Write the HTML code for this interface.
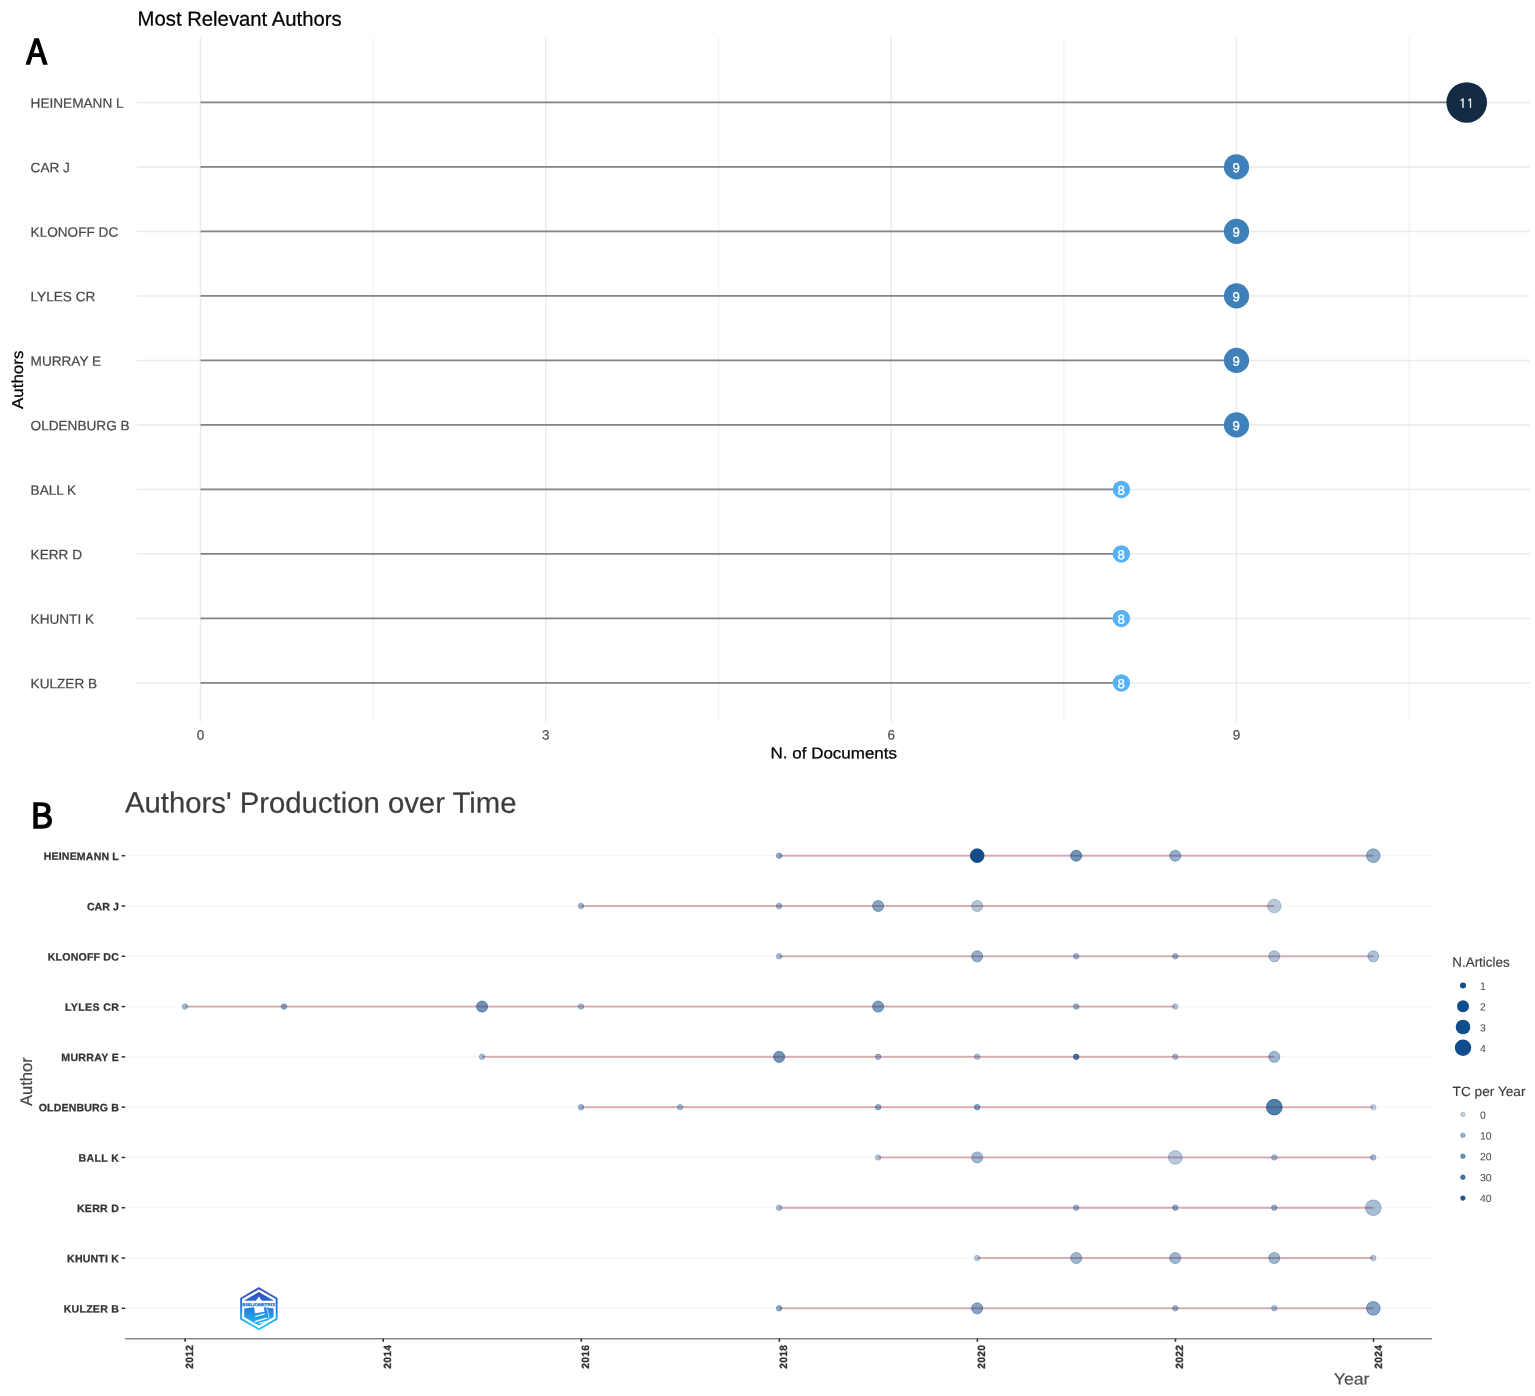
<!DOCTYPE html>
<html lang="en"><head><meta charset="utf-8"><title>Most Relevant Authors / Authors' Production over Time</title>
<style>
html,body{margin:0;padding:0;background:#fff;}
body{width:1535px;height:1396px;overflow:hidden;}
svg{display:block;}
text{font-family:"Liberation Sans", Arial, Helvetica, sans-serif;text-rendering:geometricPrecision;}
.ng{font-family:"NanumGothic","Liberation Sans",sans-serif;}
.lab{font-family:"Noto Sans CJK SC","Liberation Sans",sans-serif;font-weight:400;}
</style></head><body>
<svg width="1535" height="1396" viewBox="0 0 1535 1396">
<defs>
<linearGradient id="lg" gradientUnits="userSpaceOnUse" x1="0" y1="-21" x2="0" y2="21">
<stop offset="0" stop-color="#3A40B2"/><stop offset="0.45" stop-color="#2378DD"/><stop offset="1" stop-color="#1FCDF3"/>
</linearGradient>
</defs>
<rect width="1535" height="1396" fill="#fff"/>

<g id="panelA">
<line x1="373.16" y1="37.50" x2="373.16" y2="721.50" stroke="#f1f1f1" stroke-width="1.2"/>
<line x1="718.50" y1="37.50" x2="718.50" y2="721.50" stroke="#f1f1f1" stroke-width="1.2"/>
<line x1="1063.83" y1="37.50" x2="1063.83" y2="721.50" stroke="#f1f1f1" stroke-width="1.2"/>
<line x1="1409.15" y1="37.50" x2="1409.15" y2="721.50" stroke="#f1f1f1" stroke-width="1.2"/>
<line x1="200.50" y1="37.50" x2="200.50" y2="721.50" stroke="#ebebeb" stroke-width="1.5"/>
<line x1="545.83" y1="37.50" x2="545.83" y2="721.50" stroke="#ebebeb" stroke-width="1.5"/>
<line x1="891.16" y1="37.50" x2="891.16" y2="721.50" stroke="#ebebeb" stroke-width="1.5"/>
<line x1="1236.49" y1="37.50" x2="1236.49" y2="721.50" stroke="#ebebeb" stroke-width="1.5"/>
<line x1="137.00" y1="102.45" x2="1530.00" y2="102.45" stroke="#ebebeb" stroke-width="1.5"/>
<line x1="137.00" y1="166.95" x2="1530.00" y2="166.95" stroke="#ebebeb" stroke-width="1.5"/>
<line x1="137.00" y1="231.45" x2="1530.00" y2="231.45" stroke="#ebebeb" stroke-width="1.5"/>
<line x1="137.00" y1="295.95" x2="1530.00" y2="295.95" stroke="#ebebeb" stroke-width="1.5"/>
<line x1="137.00" y1="360.45" x2="1530.00" y2="360.45" stroke="#ebebeb" stroke-width="1.5"/>
<line x1="137.00" y1="424.95" x2="1530.00" y2="424.95" stroke="#ebebeb" stroke-width="1.5"/>
<line x1="137.00" y1="489.45" x2="1530.00" y2="489.45" stroke="#ebebeb" stroke-width="1.5"/>
<line x1="137.00" y1="553.95" x2="1530.00" y2="553.95" stroke="#ebebeb" stroke-width="1.5"/>
<line x1="137.00" y1="618.45" x2="1530.00" y2="618.45" stroke="#ebebeb" stroke-width="1.5"/>
<line x1="137.00" y1="682.95" x2="1530.00" y2="682.95" stroke="#ebebeb" stroke-width="1.5"/>
<line x1="200.50" y1="102.45" x2="1466.71" y2="102.45" stroke="#858585" stroke-width="1.7"/>
<line x1="200.50" y1="166.95" x2="1236.49" y2="166.95" stroke="#858585" stroke-width="1.7"/>
<line x1="200.50" y1="231.45" x2="1236.49" y2="231.45" stroke="#858585" stroke-width="1.7"/>
<line x1="200.50" y1="295.95" x2="1236.49" y2="295.95" stroke="#858585" stroke-width="1.7"/>
<line x1="200.50" y1="360.45" x2="1236.49" y2="360.45" stroke="#858585" stroke-width="1.7"/>
<line x1="200.50" y1="424.95" x2="1236.49" y2="424.95" stroke="#858585" stroke-width="1.7"/>
<line x1="200.50" y1="489.45" x2="1121.38" y2="489.45" stroke="#858585" stroke-width="1.7"/>
<line x1="200.50" y1="553.95" x2="1121.38" y2="553.95" stroke="#858585" stroke-width="1.7"/>
<line x1="200.50" y1="618.45" x2="1121.38" y2="618.45" stroke="#858585" stroke-width="1.7"/>
<line x1="200.50" y1="682.95" x2="1121.38" y2="682.95" stroke="#858585" stroke-width="1.7"/>
<circle cx="1466.71" cy="102.45" r="20.3" fill="#132B43"/>
<text transform="translate(1466.61,107.45) rotate(0.03)" font-size="12" fill="#fff" class="ng" text-anchor="middle" stroke="#fff" stroke-width="0.35" letter-spacing="0.3">11</text>
<circle cx="1236.49" cy="166.95" r="12.6" fill="#3E80BA"/>
<text transform="translate(1236.19,172.25) rotate(0.03)" font-size="13.2" fill="#fff" text-anchor="middle" stroke="#fff" stroke-width="0.3">9</text>
<circle cx="1236.49" cy="231.45" r="12.6" fill="#3E80BA"/>
<text transform="translate(1236.19,236.75) rotate(0.03)" font-size="13.2" fill="#fff" text-anchor="middle" stroke="#fff" stroke-width="0.3">9</text>
<circle cx="1236.49" cy="295.95" r="12.6" fill="#3E80BA"/>
<text transform="translate(1236.19,301.25) rotate(0.03)" font-size="13.2" fill="#fff" text-anchor="middle" stroke="#fff" stroke-width="0.3">9</text>
<circle cx="1236.49" cy="360.45" r="12.6" fill="#3E80BA"/>
<text transform="translate(1236.19,365.75) rotate(0.03)" font-size="13.2" fill="#fff" text-anchor="middle" stroke="#fff" stroke-width="0.3">9</text>
<circle cx="1236.49" cy="424.95" r="12.6" fill="#3E80BA"/>
<text transform="translate(1236.19,430.25) rotate(0.03)" font-size="13.2" fill="#fff" text-anchor="middle" stroke="#fff" stroke-width="0.3">9</text>
<circle cx="1121.38" cy="489.45" r="8.7" fill="#56B1F7"/>
<text transform="translate(1121.08,494.75) rotate(0.03)" font-size="13.2" fill="#fff" text-anchor="middle" stroke="#fff" stroke-width="0.3">8</text>
<circle cx="1121.38" cy="553.95" r="8.7" fill="#56B1F7"/>
<text transform="translate(1121.08,559.25) rotate(0.03)" font-size="13.2" fill="#fff" text-anchor="middle" stroke="#fff" stroke-width="0.3">8</text>
<circle cx="1121.38" cy="618.45" r="8.7" fill="#56B1F7"/>
<text transform="translate(1121.08,623.75) rotate(0.03)" font-size="13.2" fill="#fff" text-anchor="middle" stroke="#fff" stroke-width="0.3">8</text>
<circle cx="1121.38" cy="682.95" r="8.7" fill="#56B1F7"/>
<text transform="translate(1121.08,688.25) rotate(0.03)" font-size="13.2" fill="#fff" text-anchor="middle" stroke="#fff" stroke-width="0.3">8</text>
<text transform="translate(30.55,107.70) rotate(0.03)" font-size="13.62" fill="#474747" stroke="#474747" stroke-width="0.2">HEINEMANN L</text>
<text transform="translate(30.55,172.20) rotate(0.03)" font-size="13.62" fill="#474747" stroke="#474747" stroke-width="0.2">CAR J</text>
<text transform="translate(30.55,236.70) rotate(0.03)" font-size="13.62" fill="#474747" stroke="#474747" stroke-width="0.2">KLONOFF DC</text>
<text transform="translate(30.55,301.20) rotate(0.03)" font-size="13.62" fill="#474747" stroke="#474747" stroke-width="0.2">LYLES CR</text>
<text transform="translate(30.55,365.70) rotate(0.03)" font-size="13.62" fill="#474747" stroke="#474747" stroke-width="0.2">MURRAY E</text>
<text transform="translate(30.55,430.20) rotate(0.03)" font-size="13.62" fill="#474747" stroke="#474747" stroke-width="0.2">OLDENBURG B</text>
<text transform="translate(30.55,494.70) rotate(0.03)" font-size="13.62" fill="#474747" stroke="#474747" stroke-width="0.2">BALL K</text>
<text transform="translate(30.55,559.20) rotate(0.03)" font-size="13.62" fill="#474747" stroke="#474747" stroke-width="0.2">KERR D</text>
<text transform="translate(30.55,623.70) rotate(0.03)" font-size="13.62" fill="#474747" stroke="#474747" stroke-width="0.2">KHUNTI K</text>
<text transform="translate(30.55,688.20) rotate(0.03)" font-size="13.62" fill="#474747" stroke="#474747" stroke-width="0.2">KULZER B</text>
<text transform="translate(200.50,739.50) rotate(0.03)" font-size="13.5" fill="#4d4d4d" text-anchor="middle" stroke="#4d4d4d" stroke-width="0.2">0</text>
<text transform="translate(545.83,739.50) rotate(0.03)" font-size="13.5" fill="#4d4d4d" text-anchor="middle" stroke="#4d4d4d" stroke-width="0.2">3</text>
<text transform="translate(891.16,739.50) rotate(0.03)" font-size="13.5" fill="#4d4d4d" text-anchor="middle" stroke="#4d4d4d" stroke-width="0.2">6</text>
<text transform="translate(1236.49,739.50) rotate(0.03)" font-size="13.5" fill="#4d4d4d" text-anchor="middle" stroke="#4d4d4d" stroke-width="0.2">9</text>
<text transform="translate(833.80,758.40) rotate(0.03) scale(1.075,1)" font-size="15.8" fill="#000" text-anchor="middle" stroke="#000" stroke-width="0.25">N. of Documents</text>
<text transform="translate(22.70,379.80) rotate(-90) scale(1.07,1)" font-size="15.8" fill="#000" text-anchor="middle" stroke="#000" stroke-width="0.25">Authors</text>
<text transform="translate(137.60,25.60) rotate(0.03)" font-size="20.3" fill="#000" stroke="#000" stroke-width="0.25">Most Relevant Authors</text>
<text class="lab" x="26.3" y="64.35" font-size="34.2" fill="#000" stroke="#000" stroke-width="1.3">A</text>
</g>
<g id="panelB">
<line x1="125.00" y1="855.70" x2="1432.00" y2="855.70" stroke="#f6f6f6" stroke-width="1.2"/>
<line x1="125.00" y1="905.99" x2="1432.00" y2="905.99" stroke="#f6f6f6" stroke-width="1.2"/>
<line x1="125.00" y1="956.28" x2="1432.00" y2="956.28" stroke="#f6f6f6" stroke-width="1.2"/>
<line x1="125.00" y1="1006.57" x2="1432.00" y2="1006.57" stroke="#f6f6f6" stroke-width="1.2"/>
<line x1="125.00" y1="1056.86" x2="1432.00" y2="1056.86" stroke="#f6f6f6" stroke-width="1.2"/>
<line x1="125.00" y1="1107.15" x2="1432.00" y2="1107.15" stroke="#f6f6f6" stroke-width="1.2"/>
<line x1="125.00" y1="1157.44" x2="1432.00" y2="1157.44" stroke="#f6f6f6" stroke-width="1.2"/>
<line x1="125.00" y1="1207.73" x2="1432.00" y2="1207.73" stroke="#f6f6f6" stroke-width="1.2"/>
<line x1="125.00" y1="1258.02" x2="1432.00" y2="1258.02" stroke="#f6f6f6" stroke-width="1.2"/>
<line x1="125.00" y1="1308.31" x2="1432.00" y2="1308.31" stroke="#f6f6f6" stroke-width="1.2"/>
<g id="logo" transform="translate(258.9,1308.7)">
<polygon points="0,-20.5 17.75,-10.25 17.75,10.25 0,20.5 -17.75,10.25 -17.75,-10.25" fill="#fff" stroke="url(#lg)" stroke-width="1.9" stroke-linejoin="miter"/>
<polygon points="0,-16.7 14.3,-8.45 14.3,-8.0 -14.3,-8.0 -14.3,-8.45" fill="url(#lg)"/>
<polygon points="-14.7,-0.3 -5.2,-1.5 5.2,-1.5 14.7,-0.3 14.7,8.4 0,16.9 -14.7,8.4" fill="url(#lg)"/>
<polygon points="0,-12.2 3.4,-7.2 -3.4,-7.2" fill="#fff"/>
<polygon points="-4.8,-2 4.9,-2 5.7,3.1 -3.9,4.5" fill="#fff"/>
<path d="M-3.6,7.8 L5.9,5.2 M-4,12.9 L8,9.4 M0.2,14.6 L8,12.5" stroke="#fff" stroke-width="1.15" fill="none"/>
<path d="M7.2,0.2 L8.6,0.6 L10.2,10.8" stroke="#fff" stroke-width="0.7" fill="none"/>
<text x="0" y="-3.1" font-size="4.1" font-weight="bold" fill="#2672DC" stroke="#2672DC" stroke-width="0.25" text-anchor="middle" textLength="32.6" lengthAdjust="spacingAndGlyphs">BIBLIOMETRIX</text>
</g>

<line x1="779.13" y1="855.70" x2="1373.31" y2="855.70" stroke="#9D1928" stroke-width="2" stroke-opacity="0.25"/>
<circle cx="779.13" cy="855.70" r="2.75" fill="#104E8B" fill-opacity="0.45" stroke="#104E8B" stroke-opacity="0.45" stroke-width="0.9"/>
<circle cx="977.19" cy="855.70" r="6.85" fill="#104E8B" fill-opacity="1.00" stroke="#104E8B" stroke-opacity="1.00" stroke-width="0.9"/>
<circle cx="1076.22" cy="855.70" r="5.55" fill="#104E8B" fill-opacity="0.60" stroke="#104E8B" stroke-opacity="0.60" stroke-width="0.9"/>
<circle cx="1175.25" cy="855.70" r="5.55" fill="#104E8B" fill-opacity="0.45" stroke="#104E8B" stroke-opacity="0.45" stroke-width="0.9"/>
<circle cx="1373.31" cy="855.70" r="6.85" fill="#104E8B" fill-opacity="0.45" stroke="#104E8B" stroke-opacity="0.45" stroke-width="0.9"/>
<line x1="779.13" y1="855.70" x2="1373.31" y2="855.70" stroke="#9D1928" stroke-width="1.8" stroke-opacity="0.12"/>
<line x1="581.07" y1="905.99" x2="1274.28" y2="905.99" stroke="#9D1928" stroke-width="2" stroke-opacity="0.25"/>
<circle cx="581.07" cy="905.99" r="2.75" fill="#104E8B" fill-opacity="0.40" stroke="#104E8B" stroke-opacity="0.40" stroke-width="0.9"/>
<circle cx="779.13" cy="905.99" r="2.75" fill="#104E8B" fill-opacity="0.40" stroke="#104E8B" stroke-opacity="0.40" stroke-width="0.9"/>
<circle cx="878.16" cy="905.99" r="5.55" fill="#104E8B" fill-opacity="0.50" stroke="#104E8B" stroke-opacity="0.50" stroke-width="0.9"/>
<circle cx="977.19" cy="905.99" r="5.55" fill="#104E8B" fill-opacity="0.32" stroke="#104E8B" stroke-opacity="0.32" stroke-width="0.9"/>
<circle cx="1274.28" cy="905.99" r="6.85" fill="#104E8B" fill-opacity="0.30" stroke="#104E8B" stroke-opacity="0.30" stroke-width="0.9"/>
<line x1="581.07" y1="905.99" x2="1274.28" y2="905.99" stroke="#9D1928" stroke-width="1.8" stroke-opacity="0.12"/>
<line x1="779.13" y1="956.28" x2="1373.31" y2="956.28" stroke="#9D1928" stroke-width="2" stroke-opacity="0.25"/>
<circle cx="779.13" cy="956.28" r="2.75" fill="#104E8B" fill-opacity="0.35" stroke="#104E8B" stroke-opacity="0.35" stroke-width="0.9"/>
<circle cx="977.19" cy="956.28" r="5.55" fill="#104E8B" fill-opacity="0.45" stroke="#104E8B" stroke-opacity="0.45" stroke-width="0.9"/>
<circle cx="1076.22" cy="956.28" r="2.75" fill="#104E8B" fill-opacity="0.40" stroke="#104E8B" stroke-opacity="0.40" stroke-width="0.9"/>
<circle cx="1175.25" cy="956.28" r="2.75" fill="#104E8B" fill-opacity="0.40" stroke="#104E8B" stroke-opacity="0.40" stroke-width="0.9"/>
<circle cx="1274.28" cy="956.28" r="5.55" fill="#104E8B" fill-opacity="0.35" stroke="#104E8B" stroke-opacity="0.35" stroke-width="0.9"/>
<circle cx="1373.31" cy="956.28" r="5.55" fill="#104E8B" fill-opacity="0.35" stroke="#104E8B" stroke-opacity="0.35" stroke-width="0.9"/>
<line x1="779.13" y1="956.28" x2="1373.31" y2="956.28" stroke="#9D1928" stroke-width="1.8" stroke-opacity="0.12"/>
<line x1="184.95" y1="1006.57" x2="1175.25" y2="1006.57" stroke="#9D1928" stroke-width="2" stroke-opacity="0.25"/>
<circle cx="184.95" cy="1006.57" r="2.75" fill="#104E8B" fill-opacity="0.35" stroke="#104E8B" stroke-opacity="0.35" stroke-width="0.9"/>
<circle cx="283.98" cy="1006.57" r="2.75" fill="#104E8B" fill-opacity="0.45" stroke="#104E8B" stroke-opacity="0.45" stroke-width="0.9"/>
<circle cx="482.04" cy="1006.57" r="5.55" fill="#104E8B" fill-opacity="0.60" stroke="#104E8B" stroke-opacity="0.60" stroke-width="0.9"/>
<circle cx="581.07" cy="1006.57" r="2.75" fill="#104E8B" fill-opacity="0.35" stroke="#104E8B" stroke-opacity="0.35" stroke-width="0.9"/>
<circle cx="878.16" cy="1006.57" r="5.55" fill="#104E8B" fill-opacity="0.55" stroke="#104E8B" stroke-opacity="0.55" stroke-width="0.9"/>
<circle cx="1076.22" cy="1006.57" r="2.75" fill="#104E8B" fill-opacity="0.40" stroke="#104E8B" stroke-opacity="0.40" stroke-width="0.9"/>
<circle cx="1175.25" cy="1006.57" r="2.75" fill="#104E8B" fill-opacity="0.30" stroke="#104E8B" stroke-opacity="0.30" stroke-width="0.9"/>
<line x1="184.95" y1="1006.57" x2="1175.25" y2="1006.57" stroke="#9D1928" stroke-width="1.8" stroke-opacity="0.12"/>
<line x1="482.04" y1="1056.86" x2="1274.28" y2="1056.86" stroke="#9D1928" stroke-width="2" stroke-opacity="0.25"/>
<circle cx="482.04" cy="1056.86" r="2.75" fill="#104E8B" fill-opacity="0.35" stroke="#104E8B" stroke-opacity="0.35" stroke-width="0.9"/>
<circle cx="779.13" cy="1056.86" r="5.55" fill="#104E8B" fill-opacity="0.60" stroke="#104E8B" stroke-opacity="0.60" stroke-width="0.9"/>
<circle cx="878.16" cy="1056.86" r="2.75" fill="#104E8B" fill-opacity="0.40" stroke="#104E8B" stroke-opacity="0.40" stroke-width="0.9"/>
<circle cx="977.19" cy="1056.86" r="2.75" fill="#104E8B" fill-opacity="0.35" stroke="#104E8B" stroke-opacity="0.35" stroke-width="0.9"/>
<circle cx="1076.22" cy="1056.86" r="2.75" fill="#104E8B" fill-opacity="0.75" stroke="#104E8B" stroke-opacity="0.75" stroke-width="0.9"/>
<circle cx="1175.25" cy="1056.86" r="2.75" fill="#104E8B" fill-opacity="0.35" stroke="#104E8B" stroke-opacity="0.35" stroke-width="0.9"/>
<circle cx="1274.28" cy="1056.86" r="5.55" fill="#104E8B" fill-opacity="0.40" stroke="#104E8B" stroke-opacity="0.40" stroke-width="0.9"/>
<line x1="482.04" y1="1056.86" x2="1274.28" y2="1056.86" stroke="#9D1928" stroke-width="1.8" stroke-opacity="0.12"/>
<line x1="581.07" y1="1107.15" x2="1373.31" y2="1107.15" stroke="#9D1928" stroke-width="2" stroke-opacity="0.25"/>
<circle cx="581.07" cy="1107.15" r="2.75" fill="#104E8B" fill-opacity="0.40" stroke="#104E8B" stroke-opacity="0.40" stroke-width="0.9"/>
<circle cx="680.10" cy="1107.15" r="2.75" fill="#104E8B" fill-opacity="0.35" stroke="#104E8B" stroke-opacity="0.35" stroke-width="0.9"/>
<circle cx="878.16" cy="1107.15" r="2.75" fill="#104E8B" fill-opacity="0.45" stroke="#104E8B" stroke-opacity="0.45" stroke-width="0.9"/>
<circle cx="977.19" cy="1107.15" r="2.75" fill="#104E8B" fill-opacity="0.50" stroke="#104E8B" stroke-opacity="0.50" stroke-width="0.9"/>
<circle cx="1274.28" cy="1107.15" r="7.85" fill="#104E8B" fill-opacity="0.73" stroke="#104E8B" stroke-opacity="0.73" stroke-width="0.9"/>
<circle cx="1373.31" cy="1107.15" r="2.75" fill="#104E8B" fill-opacity="0.25" stroke="#104E8B" stroke-opacity="0.25" stroke-width="0.9"/>
<line x1="581.07" y1="1107.15" x2="1373.31" y2="1107.15" stroke="#9D1928" stroke-width="1.8" stroke-opacity="0.12"/>
<line x1="878.16" y1="1157.44" x2="1373.31" y2="1157.44" stroke="#9D1928" stroke-width="2" stroke-opacity="0.25"/>
<circle cx="878.16" cy="1157.44" r="2.75" fill="#104E8B" fill-opacity="0.30" stroke="#104E8B" stroke-opacity="0.30" stroke-width="0.9"/>
<circle cx="977.19" cy="1157.44" r="5.55" fill="#104E8B" fill-opacity="0.40" stroke="#104E8B" stroke-opacity="0.40" stroke-width="0.9"/>
<circle cx="1175.25" cy="1157.44" r="6.85" fill="#104E8B" fill-opacity="0.30" stroke="#104E8B" stroke-opacity="0.30" stroke-width="0.9"/>
<circle cx="1274.28" cy="1157.44" r="2.75" fill="#104E8B" fill-opacity="0.35" stroke="#104E8B" stroke-opacity="0.35" stroke-width="0.9"/>
<circle cx="1373.31" cy="1157.44" r="2.75" fill="#104E8B" fill-opacity="0.35" stroke="#104E8B" stroke-opacity="0.35" stroke-width="0.9"/>
<line x1="878.16" y1="1157.44" x2="1373.31" y2="1157.44" stroke="#9D1928" stroke-width="1.8" stroke-opacity="0.12"/>
<line x1="779.13" y1="1207.73" x2="1373.31" y2="1207.73" stroke="#9D1928" stroke-width="2" stroke-opacity="0.25"/>
<circle cx="779.13" cy="1207.73" r="2.75" fill="#104E8B" fill-opacity="0.35" stroke="#104E8B" stroke-opacity="0.35" stroke-width="0.9"/>
<circle cx="1076.22" cy="1207.73" r="2.75" fill="#104E8B" fill-opacity="0.40" stroke="#104E8B" stroke-opacity="0.40" stroke-width="0.9"/>
<circle cx="1175.25" cy="1207.73" r="2.75" fill="#104E8B" fill-opacity="0.45" stroke="#104E8B" stroke-opacity="0.45" stroke-width="0.9"/>
<circle cx="1274.28" cy="1207.73" r="2.75" fill="#104E8B" fill-opacity="0.40" stroke="#104E8B" stroke-opacity="0.40" stroke-width="0.9"/>
<circle cx="1373.31" cy="1207.73" r="7.85" fill="#104E8B" fill-opacity="0.37" stroke="#104E8B" stroke-opacity="0.37" stroke-width="0.9"/>
<line x1="779.13" y1="1207.73" x2="1373.31" y2="1207.73" stroke="#9D1928" stroke-width="1.8" stroke-opacity="0.12"/>
<line x1="977.19" y1="1258.02" x2="1373.31" y2="1258.02" stroke="#9D1928" stroke-width="2" stroke-opacity="0.25"/>
<circle cx="977.19" cy="1258.02" r="2.75" fill="#104E8B" fill-opacity="0.30" stroke="#104E8B" stroke-opacity="0.30" stroke-width="0.9"/>
<circle cx="1076.22" cy="1258.02" r="5.55" fill="#104E8B" fill-opacity="0.41" stroke="#104E8B" stroke-opacity="0.41" stroke-width="0.9"/>
<circle cx="1175.25" cy="1258.02" r="5.55" fill="#104E8B" fill-opacity="0.41" stroke="#104E8B" stroke-opacity="0.41" stroke-width="0.9"/>
<circle cx="1274.28" cy="1258.02" r="5.55" fill="#104E8B" fill-opacity="0.41" stroke="#104E8B" stroke-opacity="0.41" stroke-width="0.9"/>
<circle cx="1373.31" cy="1258.02" r="2.75" fill="#104E8B" fill-opacity="0.30" stroke="#104E8B" stroke-opacity="0.30" stroke-width="0.9"/>
<line x1="977.19" y1="1258.02" x2="1373.31" y2="1258.02" stroke="#9D1928" stroke-width="1.8" stroke-opacity="0.12"/>
<line x1="779.13" y1="1308.31" x2="1373.31" y2="1308.31" stroke="#9D1928" stroke-width="2" stroke-opacity="0.25"/>
<circle cx="779.13" cy="1308.31" r="2.75" fill="#104E8B" fill-opacity="0.45" stroke="#104E8B" stroke-opacity="0.45" stroke-width="0.9"/>
<circle cx="977.19" cy="1308.31" r="5.55" fill="#104E8B" fill-opacity="0.50" stroke="#104E8B" stroke-opacity="0.50" stroke-width="0.9"/>
<circle cx="1175.25" cy="1308.31" r="2.75" fill="#104E8B" fill-opacity="0.40" stroke="#104E8B" stroke-opacity="0.40" stroke-width="0.9"/>
<circle cx="1274.28" cy="1308.31" r="2.75" fill="#104E8B" fill-opacity="0.35" stroke="#104E8B" stroke-opacity="0.35" stroke-width="0.9"/>
<circle cx="1373.31" cy="1308.31" r="6.85" fill="#104E8B" fill-opacity="0.50" stroke="#104E8B" stroke-opacity="0.50" stroke-width="0.9"/>
<line x1="779.13" y1="1308.31" x2="1373.31" y2="1308.31" stroke="#9D1928" stroke-width="1.8" stroke-opacity="0.12"/>
<line x1="125.00" y1="1338.65" x2="1432.00" y2="1338.65" stroke="#8a8a8a" stroke-width="1.5"/>
<line x1="185.15" y1="1338.50" x2="185.15" y2="1341.80" stroke="#333" stroke-width="1.6"/>
<text transform="translate(193.15,1344.60) rotate(-90) scale(0.95,0.97)" font-size="10.8" fill="#333" font-weight="bold" text-anchor="end" stroke="#333" stroke-width="0.3" letter-spacing="0.35">2012</text>
<line x1="383.21" y1="1338.50" x2="383.21" y2="1341.80" stroke="#333" stroke-width="1.6"/>
<text transform="translate(391.21,1344.60) rotate(-90) scale(0.95,0.97)" font-size="10.8" fill="#333" font-weight="bold" text-anchor="end" stroke="#333" stroke-width="0.3" letter-spacing="0.35">2014</text>
<line x1="581.27" y1="1338.50" x2="581.27" y2="1341.80" stroke="#333" stroke-width="1.6"/>
<text transform="translate(589.27,1344.60) rotate(-90) scale(0.95,0.97)" font-size="10.8" fill="#333" font-weight="bold" text-anchor="end" stroke="#333" stroke-width="0.3" letter-spacing="0.35">2016</text>
<line x1="779.33" y1="1338.50" x2="779.33" y2="1341.80" stroke="#333" stroke-width="1.6"/>
<text transform="translate(787.33,1344.60) rotate(-90) scale(0.95,0.97)" font-size="10.8" fill="#333" font-weight="bold" text-anchor="end" stroke="#333" stroke-width="0.3" letter-spacing="0.35">2018</text>
<line x1="977.39" y1="1338.50" x2="977.39" y2="1341.80" stroke="#333" stroke-width="1.6"/>
<text transform="translate(985.39,1344.60) rotate(-90) scale(0.95,0.97)" font-size="10.8" fill="#333" font-weight="bold" text-anchor="end" stroke="#333" stroke-width="0.3" letter-spacing="0.35">2020</text>
<line x1="1175.45" y1="1338.50" x2="1175.45" y2="1341.80" stroke="#333" stroke-width="1.6"/>
<text transform="translate(1183.45,1344.60) rotate(-90) scale(0.95,0.97)" font-size="10.8" fill="#333" font-weight="bold" text-anchor="end" stroke="#333" stroke-width="0.3" letter-spacing="0.35">2022</text>
<line x1="1373.51" y1="1338.50" x2="1373.51" y2="1341.80" stroke="#333" stroke-width="1.6"/>
<text transform="translate(1381.51,1344.60) rotate(-90) scale(0.95,0.97)" font-size="10.8" fill="#333" font-weight="bold" text-anchor="end" stroke="#333" stroke-width="0.3" letter-spacing="0.35">2024</text>
<line x1="121.60" y1="855.70" x2="125.20" y2="855.70" stroke="#333" stroke-width="1.5"/>
<text transform="translate(118.80,859.90) rotate(0.03)" font-size="10.6" fill="#333" font-weight="bold" text-anchor="end" stroke="#333" stroke-width="0.25" textLength="75.08" lengthAdjust="spacing">HEINEMANN L</text>
<line x1="121.60" y1="905.99" x2="125.20" y2="905.99" stroke="#333" stroke-width="1.5"/>
<text transform="translate(118.80,910.19) rotate(0.03)" font-size="10.6" fill="#333" font-weight="bold" text-anchor="end" stroke="#333" stroke-width="0.25" textLength="31.90" lengthAdjust="spacing">CAR J</text>
<line x1="121.60" y1="956.28" x2="125.20" y2="956.28" stroke="#333" stroke-width="1.5"/>
<text transform="translate(118.80,960.48) rotate(0.03)" font-size="10.6" fill="#333" font-weight="bold" text-anchor="end" stroke="#333" stroke-width="0.25" textLength="71.05" lengthAdjust="spacing">KLONOFF DC</text>
<line x1="121.60" y1="1006.57" x2="125.20" y2="1006.57" stroke="#333" stroke-width="1.5"/>
<text transform="translate(118.80,1010.77) rotate(0.03)" font-size="10.6" fill="#333" font-weight="bold" text-anchor="end" stroke="#333" stroke-width="0.25" textLength="53.82" lengthAdjust="spacing">LYLES CR</text>
<line x1="121.60" y1="1056.86" x2="125.20" y2="1056.86" stroke="#333" stroke-width="1.5"/>
<text transform="translate(118.80,1061.06) rotate(0.03)" font-size="10.6" fill="#333" font-weight="bold" text-anchor="end" stroke="#333" stroke-width="0.25" textLength="57.54" lengthAdjust="spacing">MURRAY E</text>
<line x1="121.60" y1="1107.15" x2="125.20" y2="1107.15" stroke="#333" stroke-width="1.5"/>
<text transform="translate(118.80,1111.35) rotate(0.03)" font-size="10.6" fill="#333" font-weight="bold" text-anchor="end" stroke="#333" stroke-width="0.25" textLength="80.08" lengthAdjust="spacing">OLDENBURG B</text>
<line x1="121.60" y1="1157.44" x2="125.20" y2="1157.44" stroke="#333" stroke-width="1.5"/>
<text transform="translate(118.80,1161.64) rotate(0.03)" font-size="10.6" fill="#333" font-weight="bold" text-anchor="end" stroke="#333" stroke-width="0.25" textLength="40.26" lengthAdjust="spacing">BALL K</text>
<line x1="121.60" y1="1207.73" x2="125.20" y2="1207.73" stroke="#333" stroke-width="1.5"/>
<text transform="translate(118.80,1211.93) rotate(0.03)" font-size="10.6" fill="#333" font-weight="bold" text-anchor="end" stroke="#333" stroke-width="0.25" textLength="41.83" lengthAdjust="spacing">KERR D</text>
<line x1="121.60" y1="1258.02" x2="125.20" y2="1258.02" stroke="#333" stroke-width="1.5"/>
<text transform="translate(118.80,1262.22) rotate(0.03)" font-size="10.6" fill="#333" font-weight="bold" text-anchor="end" stroke="#333" stroke-width="0.25" textLength="51.73" lengthAdjust="spacing">KHUNTI K</text>
<line x1="121.60" y1="1308.31" x2="125.20" y2="1308.31" stroke="#333" stroke-width="1.5"/>
<text transform="translate(118.80,1312.51) rotate(0.03)" font-size="10.6" fill="#333" font-weight="bold" text-anchor="end" stroke="#333" stroke-width="0.25" textLength="55.06" lengthAdjust="spacing">KULZER B</text>
<text transform="translate(125.00,812.60) rotate(0.03)" font-size="29.3" fill="#3c3c3c" stroke="#3c3c3c" stroke-width="0.2">Authors' Production over Time</text>
<text transform="translate(1351.60,1384.50) rotate(0.03) scale(1.1,1.02)" font-size="16.1" fill="#4a4a4a" text-anchor="middle" stroke="#4a4a4a" stroke-width="0.15">Year</text>
<text transform="translate(31.90,1081.60) rotate(-90)" font-size="16.6" fill="#444" text-anchor="middle" stroke="#444" stroke-width="0.2">Author</text>
<text class="lab" x="30.6" y="828.05" font-size="34.2" fill="#000" stroke="#000" stroke-width="1.3">B</text>
<text transform="translate(1452.30,966.80) rotate(0.03) scale(1.04,1.05)" font-size="12.9" fill="#3c3c3c" stroke="#3c3c3c" stroke-width="0.15">N.Articles</text>
<circle cx="1463" cy="985.40" r="3.0" fill="#104E8B"/>
<text transform="translate(1480.00,989.80) rotate(0.03)" font-size="10.5" fill="#444">1</text>
<circle cx="1463" cy="1006.20" r="6.0" fill="#104E8B"/>
<text transform="translate(1480.00,1010.60) rotate(0.03)" font-size="10.5" fill="#444">2</text>
<circle cx="1463" cy="1027.00" r="7.3" fill="#104E8B"/>
<text transform="translate(1480.00,1031.40) rotate(0.03)" font-size="10.5" fill="#444">3</text>
<circle cx="1463" cy="1047.80" r="8.2" fill="#104E8B"/>
<text transform="translate(1480.00,1052.20) rotate(0.03)" font-size="10.5" fill="#444">4</text>
<text transform="translate(1452.60,1096.00) rotate(0.03) scale(1.06,1.03)" font-size="12.9" fill="#3c3c3c" stroke="#3c3c3c" stroke-width="0.15">TC per Year</text>
<circle cx="1462.9" cy="1114.40" r="2.2" fill="#104E8B" fill-opacity="0.27" stroke="#104E8B" stroke-opacity="0.27" stroke-width="0.9"/>
<text transform="translate(1480.00,1118.70) rotate(0.03)" font-size="10.5" fill="#444">0</text>
<circle cx="1462.9" cy="1135.33" r="2.2" fill="#104E8B" fill-opacity="0.42" stroke="#104E8B" stroke-opacity="0.42" stroke-width="0.9"/>
<text transform="translate(1480.00,1139.52) rotate(0.03)" font-size="10.5" fill="#444">10</text>
<circle cx="1462.9" cy="1156.26" r="2.2" fill="#104E8B" fill-opacity="0.59" stroke="#104E8B" stroke-opacity="0.59" stroke-width="0.9"/>
<text transform="translate(1480.00,1160.34) rotate(0.03)" font-size="10.5" fill="#444">20</text>
<circle cx="1462.9" cy="1177.19" r="2.2" fill="#104E8B" fill-opacity="0.77" stroke="#104E8B" stroke-opacity="0.77" stroke-width="0.9"/>
<text transform="translate(1480.00,1181.16) rotate(0.03)" font-size="10.5" fill="#444">30</text>
<circle cx="1462.9" cy="1198.12" r="2.2" fill="#104E8B" fill-opacity="0.97" stroke="#104E8B" stroke-opacity="0.97" stroke-width="0.9"/>
<text transform="translate(1480.00,1201.98) rotate(0.03)" font-size="10.5" fill="#444">40</text>
</g>
</svg></body></html>
